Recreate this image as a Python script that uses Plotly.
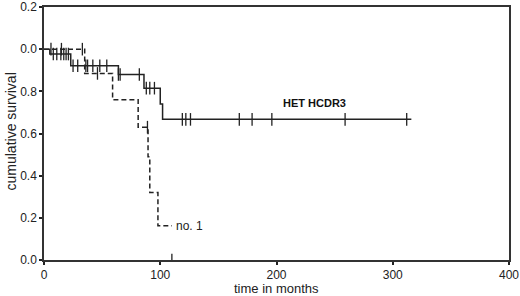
import plotly.graph_objects as go

# Solid curve (HET HCDR3): step times and survival
het_t = [0, 5, 23, 64, 86, 100, 102, 316]
het_s = [1.0, 0.977, 0.921, 0.88, 0.815, 0.74, 0.667, 0.667]
het_cens_t = [8, 11, 14.5, 17, 19, 21, 25, 29, 36, 37.5, 42, 48, 54, 64, 65.5, 82, 88, 91, 95,
              119, 122, 126, 168, 179, 196, 259, 312]
het_cens_s = [0.977]*6 + [0.921]*7 + [0.88]*3 + [0.815]*3 + [0.667]*8

# Dashed curve (no. 1)
no1_t = [0, 35, 59, 81, 89.5, 91, 98, 110]
no1_s = [1.0, 0.885, 0.76, 0.63, 0.49, 0.32, 0.162, 0.162]
no1_cens_t = [6, 15, 33, 46, 89, 110]
no1_cens_s = [1.0, 1.0, 1.0, 0.885, 0.63, 0.0]

y_ticks = [0, 0.2, 0.4, 0.6, 0.8, 1.0, 1.2]
y_ticktext = ["0.0", "0.2", "0.4", "0.6", "0.8", "0.0", "0.2"]
x_ticks = [0, 100, 200, 300, 400]

FONT = "Liberation Sans, Arial"
fig = go.Figure()
fig.add_trace(go.Scatter(x=het_t, y=het_s, mode="lines", line_shape="hv",
                         line=dict(color="#222", width=1.5), showlegend=False))
fig.add_trace(go.Scatter(x=het_cens_t, y=het_cens_s, mode="markers",
                         marker=dict(symbol="line-ns", size=9, line=dict(color="#222", width=1.3)),
                         showlegend=False))
fig.add_trace(go.Scatter(x=no1_t, y=no1_s, mode="lines", line_shape="hv",
                         line=dict(color="#222", width=1.5, dash="5px,3px"), showlegend=False))
fig.add_trace(go.Scatter(x=no1_cens_t, y=no1_cens_s, mode="markers",
                         marker=dict(symbol="line-ns", size=9, line=dict(color="#222", width=1.3)),
                         showlegend=False))

fig.add_annotation(x=233, y=0.745, text="<b>HET HCDR3</b>", showarrow=False,
                   font=dict(family=FONT, size=11, color="#111"))
fig.add_annotation(x=112, y=0.16, text="no. 1", showarrow=False, xanchor="left",
                   font=dict(family=FONT, size=12, color="#222"))
fig.add_annotation(x=0.5, xref="paper", y=-0.0, yref="paper", yshift=-28,
                   text="time in months", showarrow=False, yanchor="middle",
                   font=dict(family=FONT, size=13, color="#222"))
fig.add_annotation(x=0, xref="paper", xshift=-34, y=0.5, yref="paper", yshift=2,
                   text="cumulative survival", showarrow=False, textangle=-90,
                   xanchor="center", font=dict(family=FONT, size=14, color="#222"))

fig.update_layout(
    width=520, height=296,
    margin=dict(l=44, r=11, t=7, b=36, autoexpand=False),
    paper_bgcolor="white", plot_bgcolor="white",
    font=dict(family=FONT, size=12, color="#222"),
    xaxis=dict(range=[0, 400], tickvals=x_ticks, showline=True, linecolor="#333", linewidth=1.5,
               mirror=True, showgrid=False, zeroline=False, ticks="outside", ticklen=3,
               tickwidth=2, tickcolor="#222", tickfont=dict(size=12), automargin=False,
               ticklabeloverflow="allow"),
    yaxis=dict(range=[0, 1.2], tickvals=y_ticks, ticktext=y_ticktext, showline=True,
               linecolor="#333", linewidth=1.5, mirror=True, showgrid=False, zeroline=False,
               ticks="outside", ticklen=3, tickwidth=2, tickcolor="#222", tickfont=dict(size=12),
               automargin=False, ticklabeloverflow="allow"),
)

fig.write_html("out.html", config={"displayModeBar": False},
               post_script="document.body.style.margin='0';")
